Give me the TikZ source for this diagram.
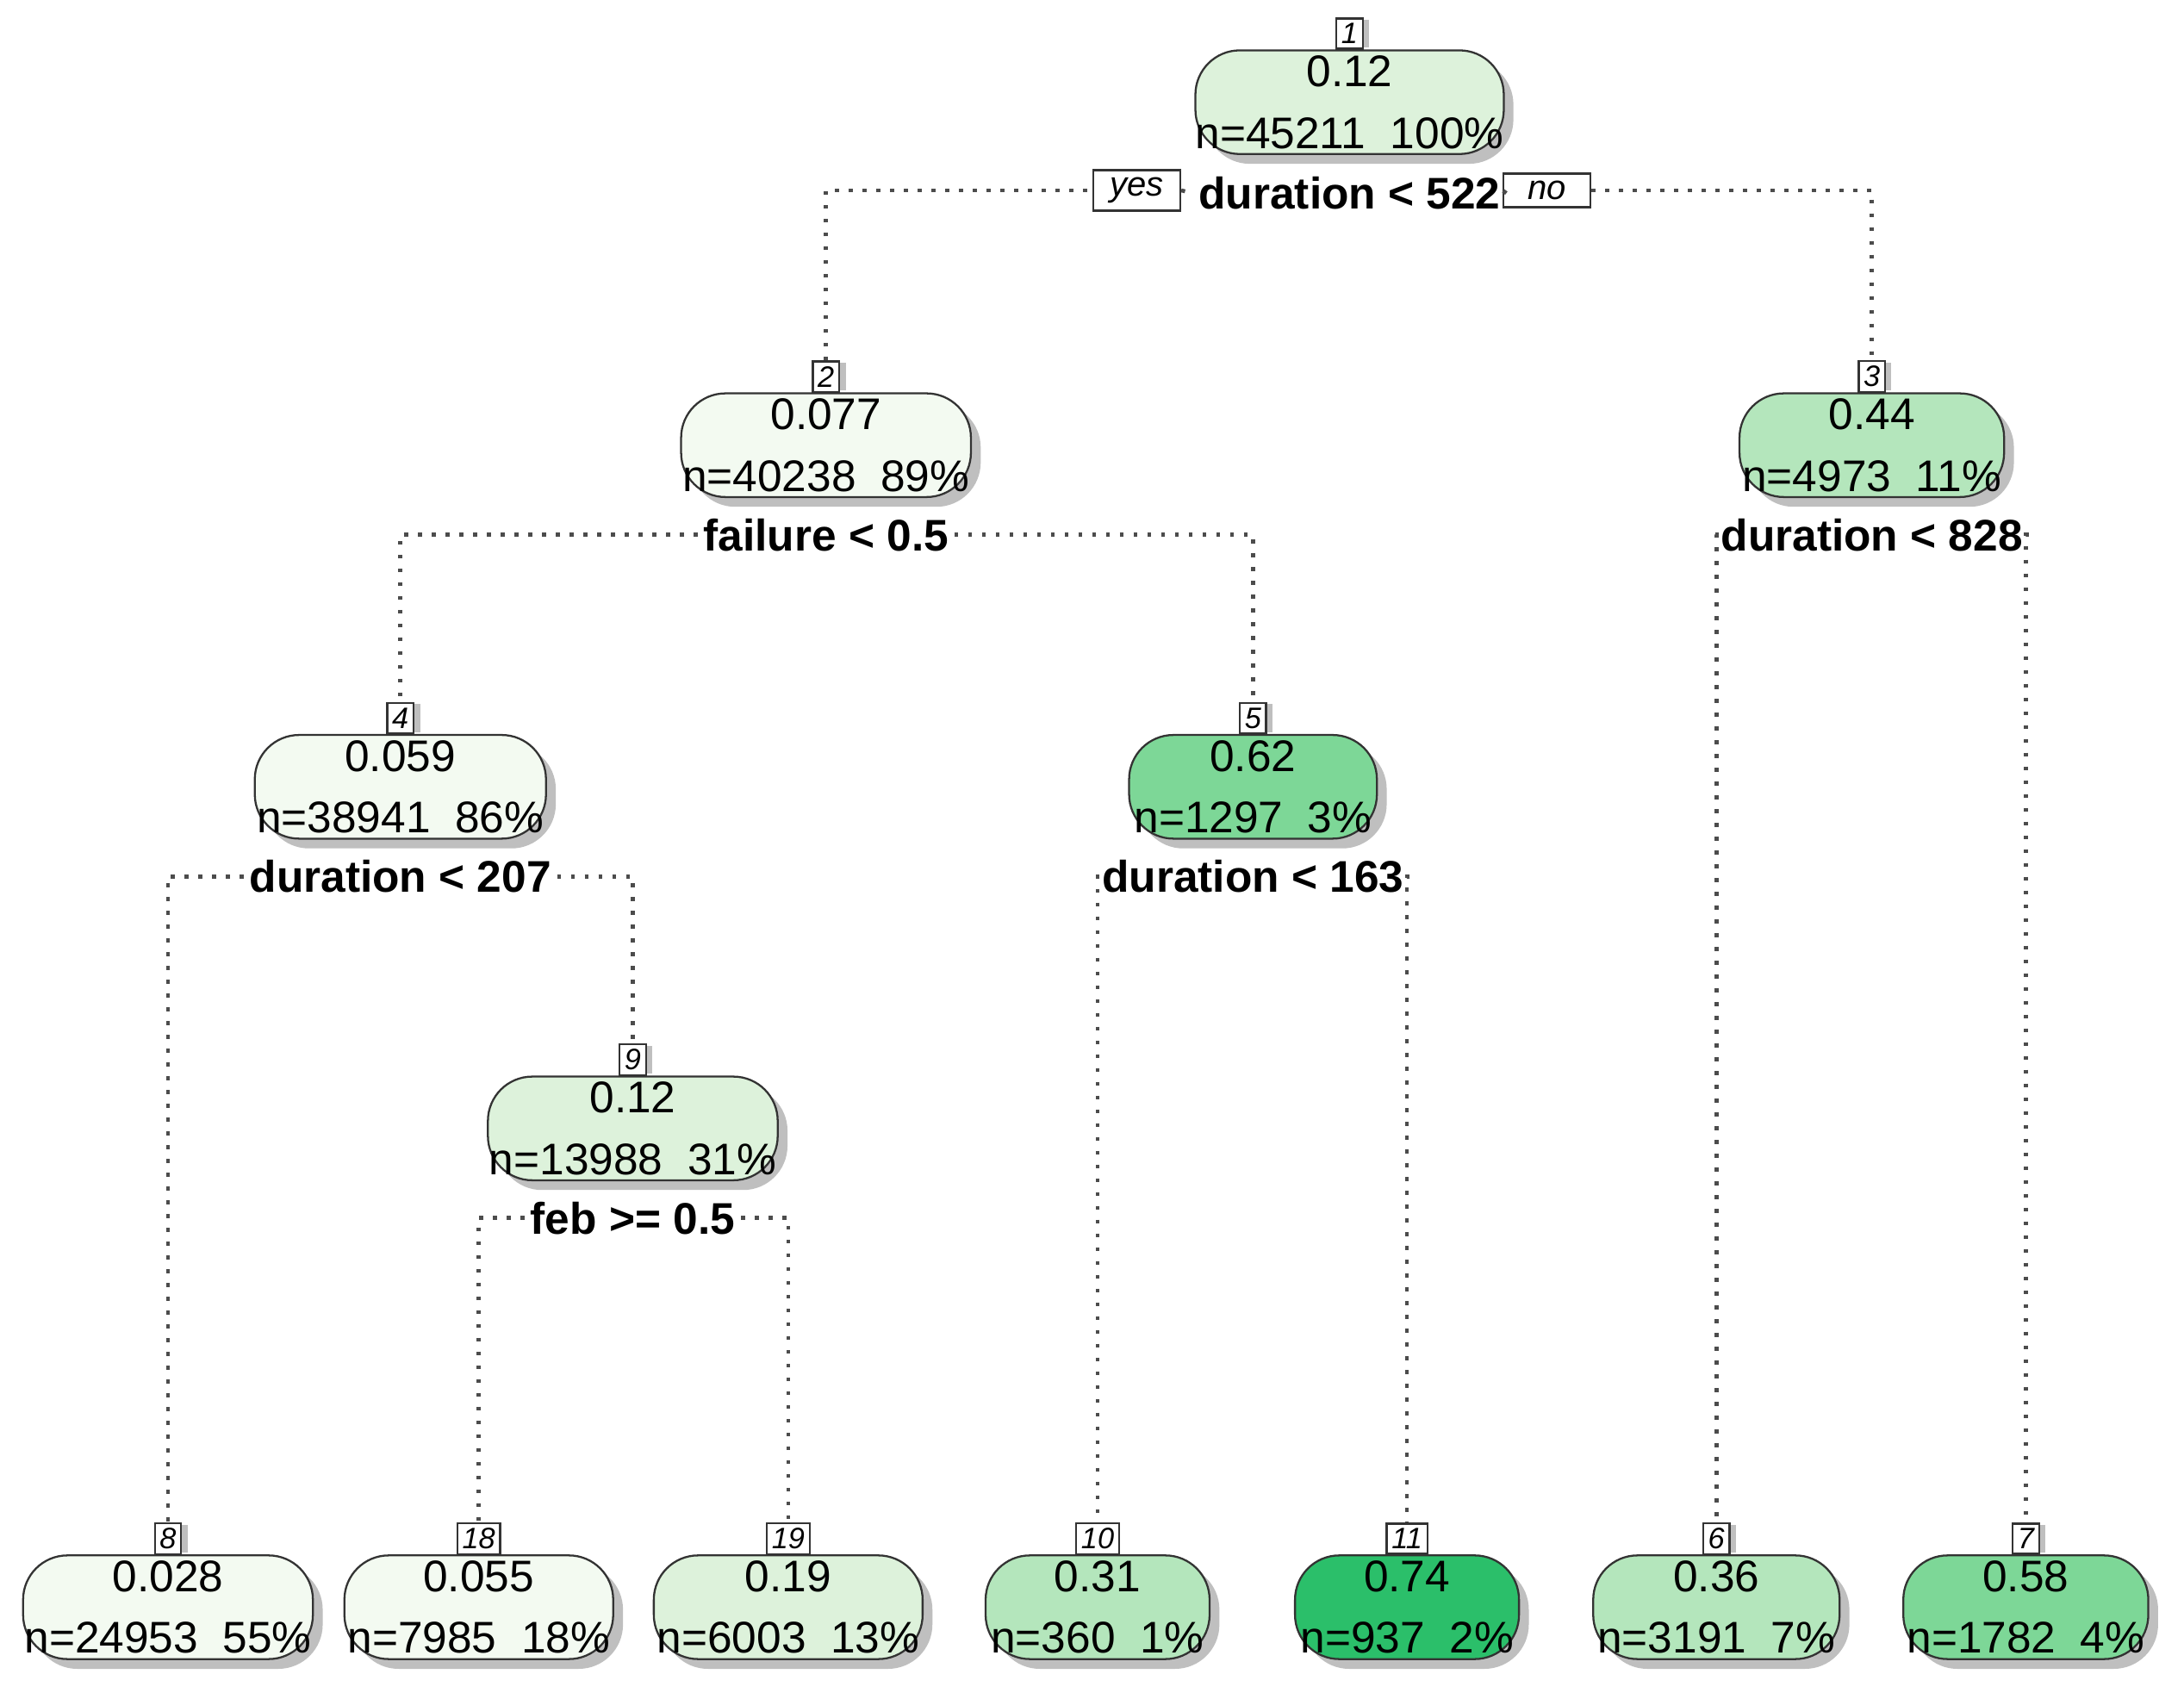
\documentclass[tikz,border=0pt]{standalone}
\usepackage{fontspec}
\setmainfont{Liberation Sans}
\begin{document}
\begin{tikzpicture}[x=0.01cm,y=-0.01cm,
  box/.style={draw=black!80,rounded corners=9pt,minimum height=0.74cm,inner sep=0pt,align=center,font=\fontsize{9}{12.5}\selectfont},
  shad/.style={fill=black!25,rounded corners=9pt,draw=none},
  tag/.style={draw=black!80,fill=white,inner sep=1pt,minimum width=0.17cm,minimum height=0.17cm,font=\fontsize{6}{6}\itshape},
  split/.style={font=\fontsize{9}{10}\bfseries\selectfont,inner sep=1pt,fill=white},
  yn/.style={draw=black!80,fill=white,inner sep=1.5pt,font=\fontsize{7}{7}\itshape,minimum width=0.62cm},
  conn/.style={dotted,thick,black!70}]
\useasboundingbox (0,0) rectangle (1560,1213);
\definecolor{c1}{HTML}{F3FAF1}
\definecolor{c2}{HTML}{DDF2DB}
\definecolor{c3}{HTML}{B4E6BC}
\definecolor{c4}{HTML}{7DD797}
\definecolor{c5}{HTML}{2BBF6A}
\newcommand\tnode[8]{% name, x, ytop, width, color, tag, value, ntext
  \fill[shad] (#2-#4/2+7,#3+7) rectangle (#2+#4/2+7,#3+81);
  \node[box,fill=#5,minimum width=#4*0.01cm] (#1) at (#2,#3+37) {#7\\#8};
  \fill[black!25] (#2-6,#3-22) rectangle (#2+14,#3-2);
  \node[tag] (t#1) at (#2,#3-12) {#6};}
\tnode{n1}{964}{36}{220}{c2}{1}{0.12}{n=45211\ \ 100\%}
\tnode{n2}{590}{281}{207}{c1}{2}{0.077}{n=40238\ \ 89\%}
\tnode{n3}{1337}{281}{189}{c3}{3}{0.44}{n=4973\ \ 11\%}
\tnode{n4}{286}{525}{208}{c1}{4}{0.059}{n=38941\ \ 86\%}
\tnode{n5}{895}{525}{177}{c4}{5}{0.62}{n=1297\ \ 3\%}
\tnode{n9}{452}{769}{207}{c2}{9}{0.12}{n=13988\ \ 31\%}
\tnode{n8}{120}{1111}{207}{c1}{8}{0.028}{n=24953\ \ 55\%}
\tnode{n18}{342}{1111}{192}{c1}{18}{0.055}{n=7985\ \ 18\%}
\tnode{n19}{563}{1111}{192}{c2}{19}{0.19}{n=6003\ \ 13\%}
\tnode{n10}{784}{1111}{160}{c3}{10}{0.31}{n=360\ \ 1\%}
\tnode{n11}{1005}{1111}{160}{c5}{11}{0.74}{n=937\ \ 2\%}
\tnode{n6}{1226}{1111}{176}{c3}{6}{0.36}{n=3191\ \ 7\%}
\tnode{n7}{1447}{1111}{175}{c4}{7}{0.58}{n=1782\ \ 4\%}
\node[split] (s1) at (964,138) {duration < 522};
\node[yn] (yes) at (812,136) {yes};
\node[yn] (no) at (1105,136) {no};
\node[split] (s2) at (590,382) {failure < 0.5};
\node[split] (s3) at (1337,382) {duration < 828};
\node[split] (s4) at (286,626) {duration < 207};
\node[split] (s5) at (895,626) {duration < 163};
\node[split] (s9) at (452,870) {feb >= 0.5};
\draw[conn] (tn2.north) |- (yes.west);
\draw[conn] (yes.east) -- (s1.west);
\draw[conn] (s1.east) -- (no.west);
\draw[conn] (no.east) -| (tn3.north);
\draw[conn] (s2.west) -| (tn4.north);
\draw[conn] (s2.east) -| (tn5.north);
\draw[conn] (s3.west) -| (tn6.north);
\draw[conn] (s3.east) -| (tn7.north);
\draw[conn] (s4.west) -| (tn8.north);
\draw[conn] (s4.east) -| (tn9.north);
\draw[conn] (s5.west) -| (tn10.north);
\draw[conn] (s5.east) -| (tn11.north);
\draw[conn] (s9.west) -| (tn18.north);
\draw[conn] (s9.east) -| (tn19.north);
\end{tikzpicture}
\end{document}
